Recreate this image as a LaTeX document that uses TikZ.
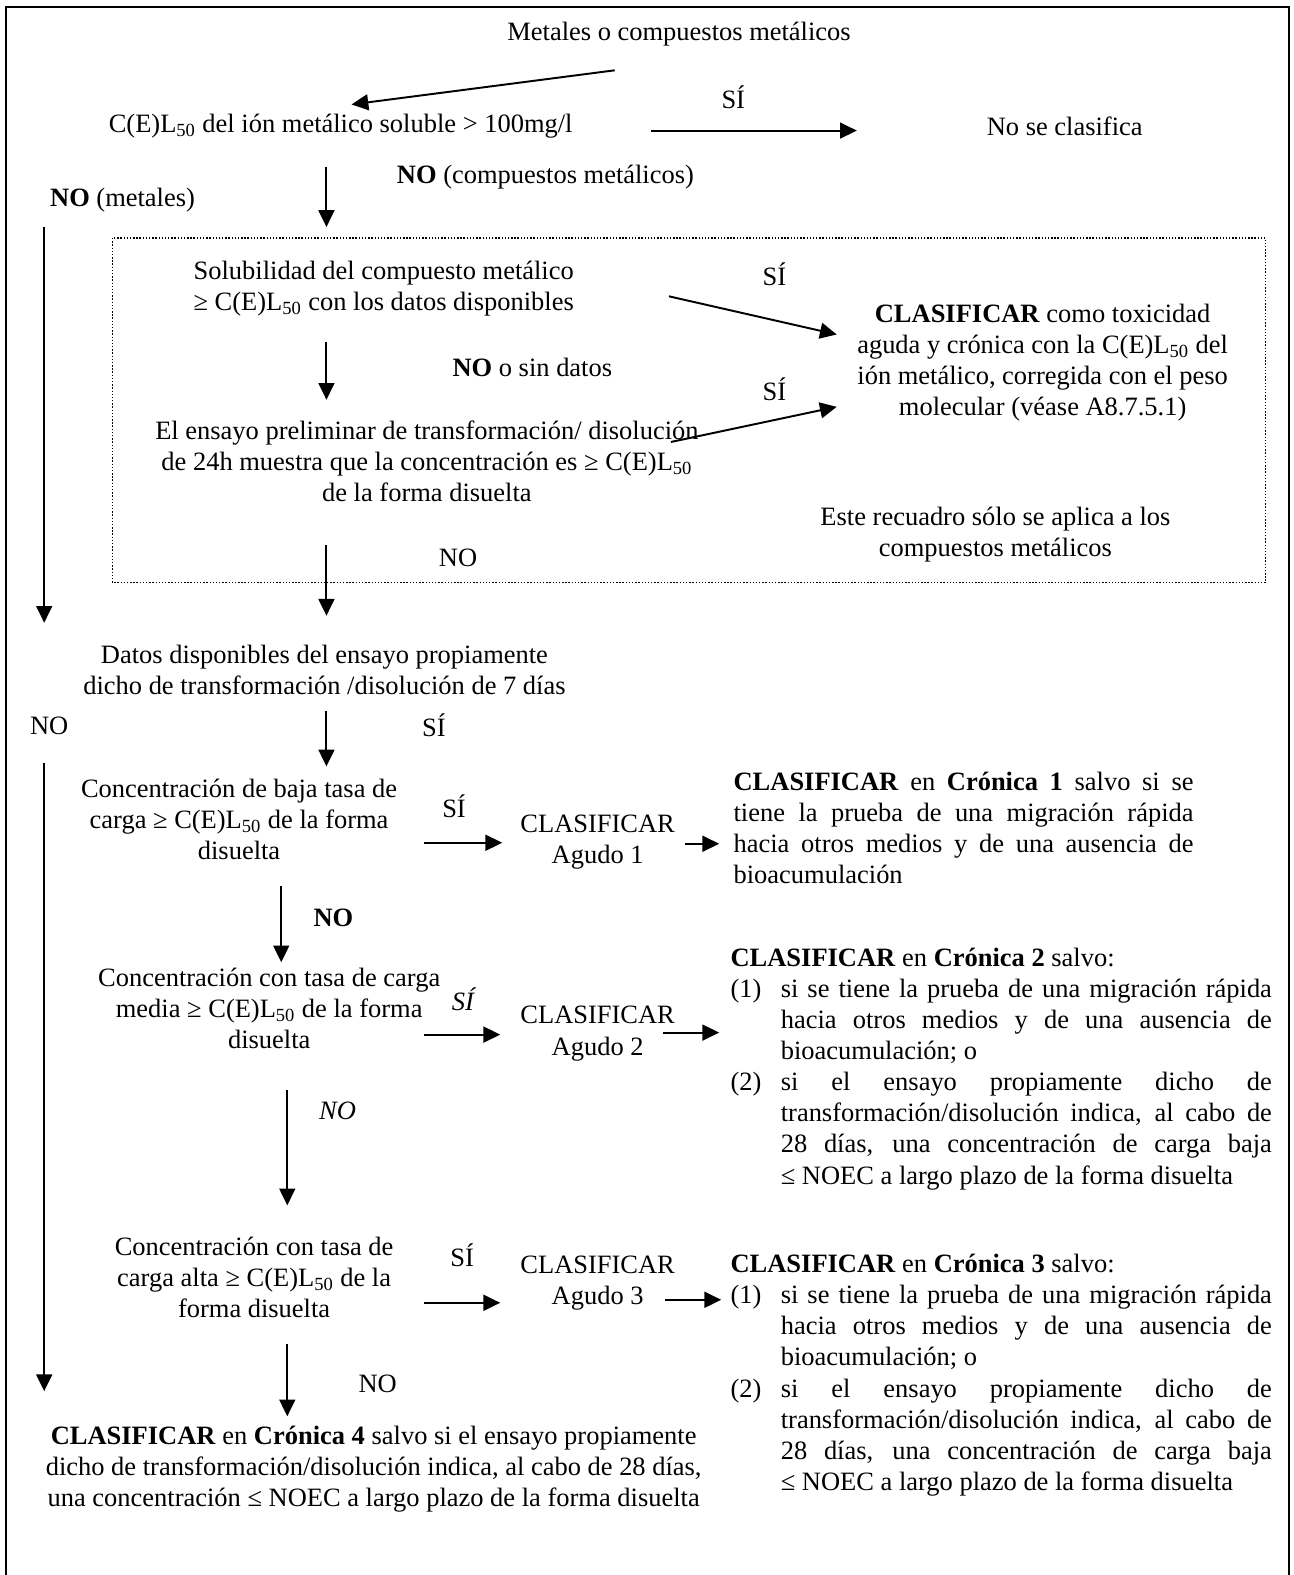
\documentclass[tikz,border=0pt]{standalone}
\usepackage{fontspec}
\setmainfont{Liberation Serif}
\usetikzlibrary{arrows.meta}

\newcommand\celx{C(E)L\textsubscript{50}}

\begin{document}
\begin{tikzpicture}[x=0.02cm,y=-0.02cm,
  every node/.style={inner sep=0pt,font=\fontsize{15}{17.6}\selectfont},
  txt/.style={align=center},
  par/.style={anchor=north west,align=justify},
  arr/.style={-{Triangle[length=9.5pt,width=9pt]},line width=1.1pt},
  ]
\useasboundingbox (0,0) rectangle (1288,1568);
\draw[line width=1pt] (6,1568) -- (6,7) -- (1283,7) -- (1283,1568);
\draw[densely dotted,line width=0.8pt] (112,237) rectangle (1260,580);

% top part
\node (metales) at (676,34) {Metales o compuestos metálicos};
\node[anchor=west] (cel) at (108,126) {\celx{} del ión metálico soluble > 100mg/l};
\node (si1) at (730,97) {SÍ};
\node (nocl) at (1060,126) {No se clasifica};
\node (nocomp) at (543,176) {\textbf{NO} (compuestos metálicos)};
\node (nomet) at (122,199) {\textbf{NO} (metales)};

% recuadro de compuestos
\node[txt] (solub) at (382,287) {Solubilidad del compuesto metálico\\ ≥ \celx{} con los datos disponibles};
\node (nosin) at (530,366) {\textbf{NO} o sin datos};
\node (si2) at (771,273) {SÍ};
\node (si3) at (771,388) {SÍ};
\node[txt] (clastox) at (1038,361) {\textbf{CLASIFICAR} como toxicidad\\ aguda y crónica con la \celx{} del\\ ión metálico, corregida con el peso\\ molecular (véase A8.7.5.1)};
\node[txt] (ensayo) at (425,459) {El ensayo preliminar de transformación/ disolución\\ de 24h muestra que la concentración es ≥ \celx\\ de la forma disuelta};
\node[txt] (recuadro) at (991,532) {Este recuadro sólo se aplica a los\\ compuestos metálicos};
\node (no1) at (456,555) {NO};

% ensayo de 7 dias
\node[txt] (datos) at (323,667) {Datos disponibles del ensayo propiamente\\ dicho de transformación /disolución de 7 días};
\node (no2) at (49,723) {NO};
\node (si4) at (432,722) {SÍ};

\node[txt] (baja) at (238,816) {Concentración de baja tasa de\\ carga ≥ \celx{} de la forma\\ disuelta};
\node (si5) at (452,803) {SÍ};
\node[txt] (ag1) at (595,838) {CLASIFICAR\\ Agudo 1};
\node[par,text width=9.16cm] (cr1) at (730,765)
  {\strut\textbf{CLASIFICAR} en \textbf{Crónica 1} salvo si se\linebreak
   tiene la prueba de una migración rápida\linebreak
   hacia otros medios y de una ausencia de\linebreak bioacumulación};
\node (no3) at (332,914) {\textbf{NO}};

\node[txt] (media) at (268,1004) {Concentración con tasa de carga\\ media ≥ \celx{} de la forma\\ disuelta};
\node (si6) at (462,995) {\textit{SÍ}};
\node[txt] (ag2) at (595,1029) {CLASIFICAR\\ Agudo 2};
\node[par] (cr2) at (727,940) {\strut\textbf{CLASIFICAR} en \textbf{Crónica 2} salvo:};
\node[anchor=base west] (cr2n1) at (727,993) {(1)};
\node[par,text width=9.78cm] (cr2i1) at (777,971)
  {\strut si se tiene la prueba de una migración rápida\linebreak
   hacia otros medios y de una ausencia de\linebreak bioacumulación; o};
\node[anchor=base west] (cr2n2) at (727,1086) {(2)};
\node[par,text width=9.78cm] (cr2i2) at (777,1064)
  {\strut si el ensayo propiamente dicho de\linebreak
   transformación/disolución indica, al cabo de\linebreak
   28 días, una concentración de carga baja\linebreak
   ≤ NOEC a largo plazo de la forma disuelta};
\node (no4) at (336,1106) {\textit{NO}};

\node[txt] (alta) at (253,1272) {Concentración con tasa de\\ carga alta ≥ \celx{} de la\\ forma disuelta};
\node (si7) at (460,1250) {SÍ};
\node[txt] (ag3) at (595,1277) {CLASIFICAR\\ Agudo 3};
\node[par] (cr3) at (727,1245) {\strut\textbf{CLASIFICAR} en \textbf{Crónica 3} salvo:};
\node[anchor=base west] (cr3n1) at (727,1298) {(1)};
\node[par,text width=9.78cm] (cr3i1) at (777,1276)
  {\strut si se tiene la prueba de una migración rápida\linebreak
   hacia otros medios y de una ausencia de\linebreak bioacumulación; o};
\node[anchor=base west] (cr3n2) at (727,1391) {(2)};
\node[par,text width=9.78cm] (cr3i2) at (777,1369)
  {\strut si el ensayo propiamente dicho de\linebreak
   transformación/disolución indica, al cabo de\linebreak
   28 días, una concentración de carga baja\linebreak
   ≤ NOEC a largo plazo de la forma disuelta};
\node (no5) at (376,1378) {NO};
\node[txt] (cr4) at (372,1463) {\textbf{CLASIFICAR} en \textbf{Crónica 4} salvo si el ensayo propiamente\\ dicho de transformación/disolución indica, al cabo de 28 días,\\ una concentración ≤ NOEC a largo plazo de la forma disuelta};

% flechas
\foreach \n/\xa/\ya/\xb/\yb in {
    a1/612/70/350/104, a2/648/130/853/130, a3/325/166/325/226,
    a4/44/226/44/620, a5/325/340/325/398, a6/666/295/833/333,
    a7/668/440/833/405, a8/325/543/325/613, a9/325/708/325/763,
    a10/44/760/44/1385, a11/422/839/500/839, a12/682/840/716/840,
    a13/280/882/280/958, a14/422/1030/498/1030, a15/660/1028/716/1028,
    a16/286/1085/286/1200, a17/422/1297/498/1297, a18/662/1294/718/1294,
    a19/286/1338/286/1410} {
  \coordinate (\n s) at (\xa,\ya);
  \coordinate (\n e) at (\xb,\yb);
  \draw[arr] (\n s) -- (\n e);
}
\end{tikzpicture}
\end{document}
